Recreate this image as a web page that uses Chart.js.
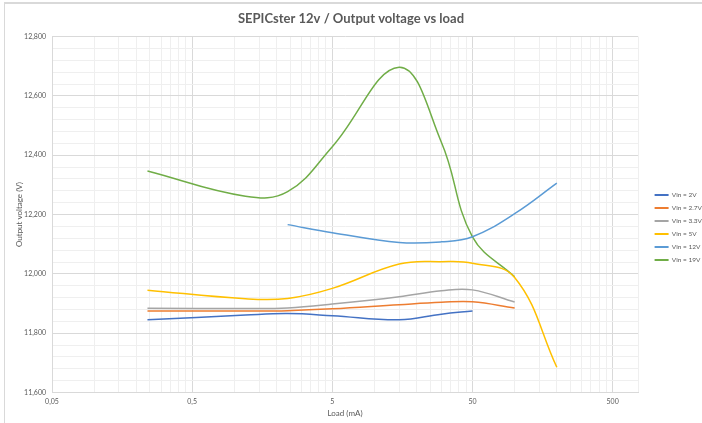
<!DOCTYPE html>
<html><head><meta charset="utf-8">
<script src="https://cdn.jsdelivr.net/npm/chart.js@4"></script>
<style>
html,body{margin:0;padding:0;background:#fff;}
#wrap{position:relative;width:702px;height:423px;overflow:hidden;}
#frame{position:absolute;left:4px;top:2px;width:702px;height:430px;border-left:1px solid #d9d9d9;border-top:2px solid #d9d9d9;pointer-events:none;}
canvas{position:absolute;left:0;top:0;}
</style></head><body>
<div id="wrap"><canvas id="c" width="702" height="423"></canvas><div id="frame"></div></div>
<script>
const chartTitle = 'SEPICster 12v / Output voltage vs load';
const xTitle = 'Load (mA)';
const yTitle = 'Output voltage (V)';
const loadsMA = [0.24, 1.2, 2.4, 5, 15, 30, 50, 100, 200];
const seriesNames = ['Vin = 2V', 'Vin = 2.7V', 'Vin = 3.3V', 'Vin = 5V', 'Vin = 12V', 'Vin = 19V'];
const vin2V  = [11845, 11861, 11866, 11859, 11845, 11864, 11875, null, null];
const vin27V = [11875, 11875, 11876, 11882, 11896, 11904, 11906, 11885, null];
const vin33V = [11884, 11883, 11885, 11898, 11923, 11943, 11946, 11905, null];
const vin5V  = [11945, 11916, 11917, 11951, 12033, 12041, 12036, 11988, 11685];
const vin12V = [null, null, 12166, 12139, 12106, 12108, 12125, 12203, 12306];
const vin19V = [12347, 12262, 12277, 12429, 12697, 12444, 12125, 11990, null];
const seriesColors = ['#4472C4', '#ED7D31', '#A5A5A5', '#FFC000', '#5B9BD5', '#70AD47'];
const xMajorTicks = [0.05, 0.5, 5, 50, 500];
const xTickLabels = ['0,05', '0,5', '5', '50', '500'];
const xMin = 0.05, xMax = 760;
const yMin = 11600, yMax = 12800, yMajorStep = 200, yMinorStep = 40;

const allSeries = [vin2V, vin27V, vin33V, vin5V, vin12V, vin19V];
const datasets = allSeries.map((vals, i) => ({
  label: seriesNames[i],
  data: loadsMA.map((x, j) => ({x: x, y: vals[j]})).filter(p => p.y !== null),
  borderColor: seriesColors[i],
  backgroundColor: seriesColors[i],
  borderWidth: 1.5,
  pointRadius: 0,
  tension: 0.4,
  fill: false
}));

const xTickValues = [];
xMajorTicks.forEach(d => { for (let k = 1; k <= 9; k++) { const v = +(d * k).toPrecision(6); if (v <= xMax) xTickValues.push(v); } });
xTickValues.push(xMax);
const isMajorX = v => xMajorTicks.some(m => Math.abs(m - v) / m < 1e-6);
const labelX = v => { const i = xMajorTicks.findIndex(m => Math.abs(m - v) / m < 1e-6); return i >= 0 ? xTickLabels[i] : ''; };

const textColor = '#595959';
const fontFam = 'Lato, "Open Sans", sans-serif';

const legendShift = {
  id: 'legendShift',
  afterLayout(chart) {
    const lg = chart.legend;
    if (lg) { const s = 10; lg.left += s; lg.right += s; }
  }
};

new Chart(document.getElementById('c'), {
  type: 'line',
  data: { datasets },
  plugins: [legendShift],
  options: {
    responsive: false,
    animation: false,
    layout: { padding: { left: 0, right: 0, top: 0, bottom: 0 } },
    plugins: {
      title: { display: true, text: chartTitle, color: textColor,
        font: { family: fontFam, size: 13, weight: 'bold' }, padding: { top: 11, bottom: 10 } },
      legend: { position: 'right', align: 'center',
        title: { display: true, text: '', font: { size: 10 }, padding: 10 },
        labels: { boxWidth: 14, boxHeight: 2, padding: 6.5, color: textColor,
          font: { family: fontFam, size: 6.5 },
          generateLabels: chart => Chart.defaults.plugins.legend.labels.generateLabels(chart).map(l => Object.assign(l, { lineWidth: 0 })) } },
      tooltip: { enabled: false }
    },
    scales: {
      x: {
        type: 'logarithmic', min: xMin, max: xMax,
        afterBuildTicks: s => { s.ticks = xTickValues.map(v => ({ value: v })); },
        afterFit: s => { s.height = 30.5; },
        ticks: { autoSkip: false, maxRotation: 0, minRotation: 0, padding: 5, color: textColor,
          font: { family: fontFam, size: 7 }, callback: v => labelX(v) },
        grid: { drawTicks: false, color: c => (c.tick && isMajorX(c.tick.value)) ? '#d9d9d9' : '#efefef', lineWidth: 1 },
        border: { color: '#d9d9d9' },
        title: { display: true, text: xTitle, color: textColor, font: { family: fontFam, size: 8 }, padding: { top: 0, bottom: 5 } }
      },
      y: {
        type: 'linear', min: yMin, max: yMax,
        afterFit: s => { s.width = 52; },
        ticks: { stepSize: yMinorStep, autoSkip: false, padding: 6, color: textColor,
          font: { family: fontFam, size: 7 },
          callback: v => (Math.round(v) % yMajorStep === 0) ? Math.round(v).toLocaleString('en-US') : '' },
        grid: { drawTicks: false, color: c => (c.tick && Math.round(c.tick.value) % yMajorStep === 0) ? '#d9d9d9' : '#efefef', lineWidth: 1 },
        border: { color: '#d9d9d9' },
        title: { display: true, text: yTitle, color: textColor, font: { family: fontFam, size: 8 }, padding: { top: 15, bottom: 0 } }
      }
    }
  }
});
</script>
</body></html>
